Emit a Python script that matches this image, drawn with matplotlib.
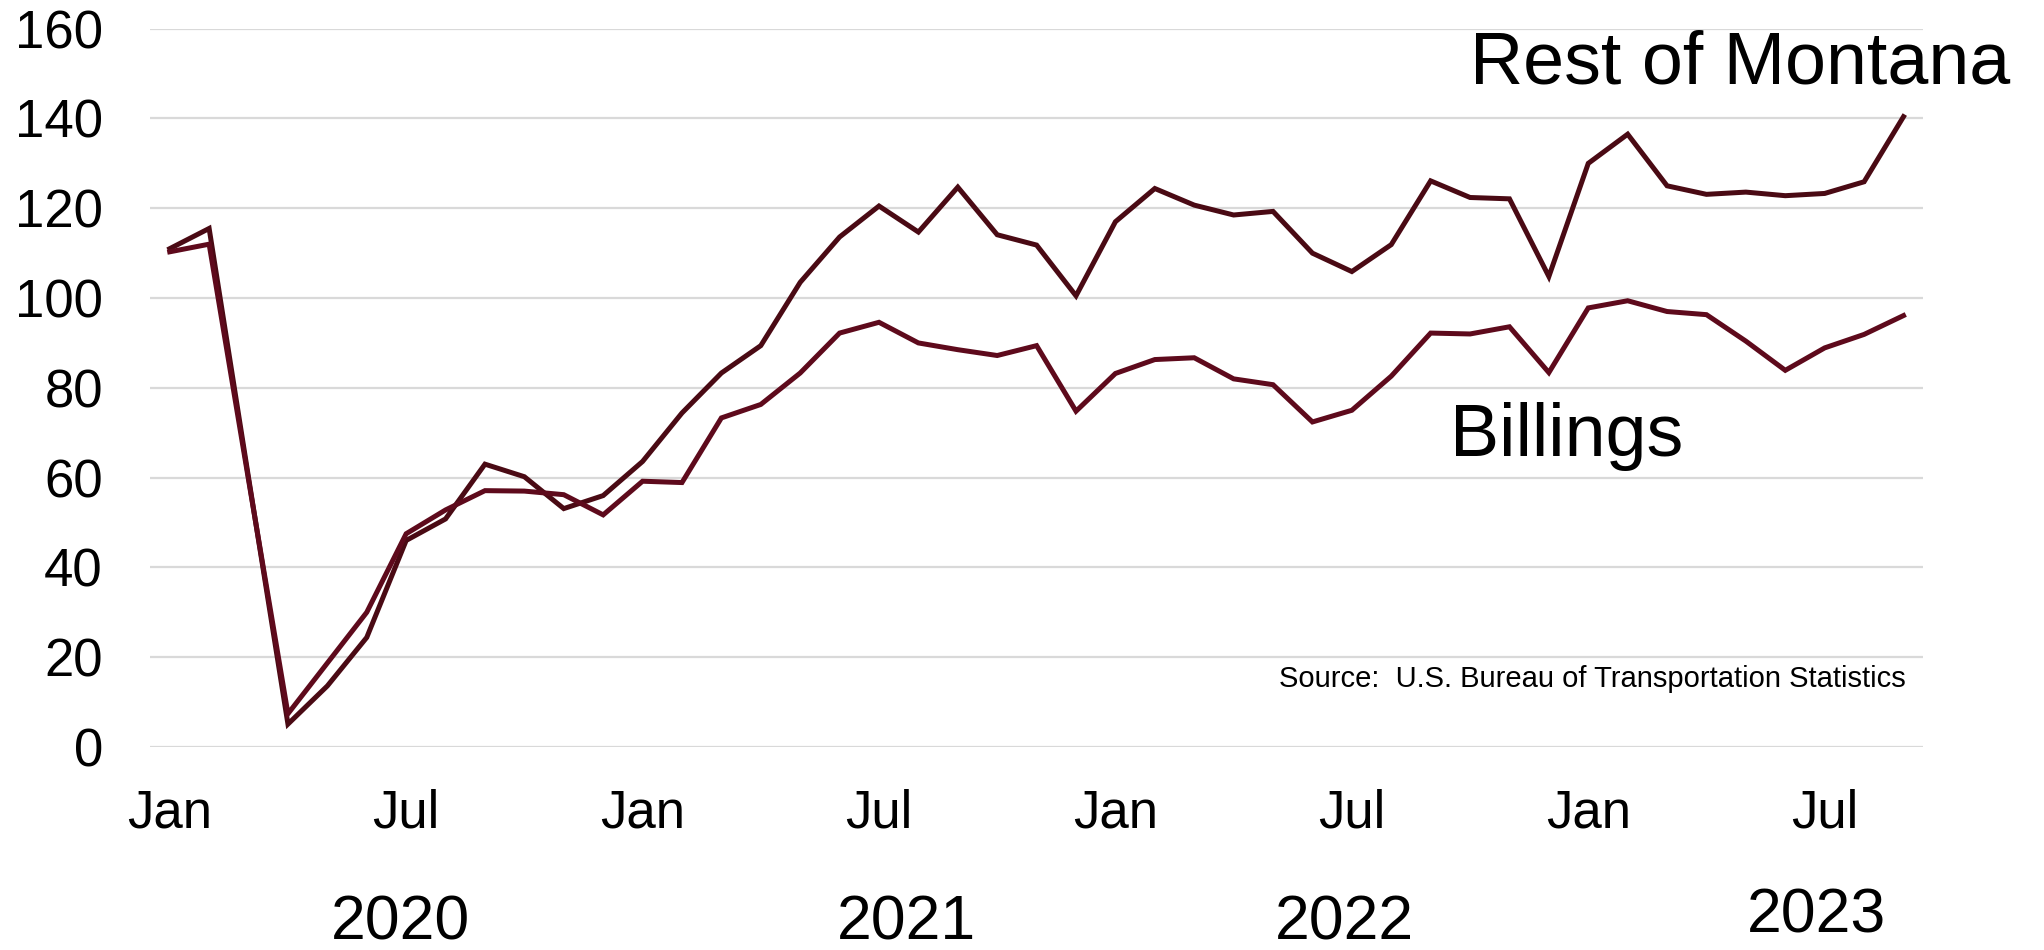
import matplotlib.pyplot as plt
import numpy as np

plt.rcParams['font.family'] = ['Liberation Sans', 'DejaVu Sans']

# monthly values, Jan 2020 - Sep 2023
months = ['Jan', 'Feb', 'Mar', 'Apr', 'May', 'Jun',
          'Jul', 'Aug', 'Sep', 'Oct', 'Nov', 'Dec'] * 3 + \
         ['Jan', 'Feb', 'Mar', 'Apr', 'May', 'Jun', 'Jul', 'Aug', 'Sep']
rest_of_montana = [111.0, 115.5, 60.0, 5.1, 13.6, 24.4, 46.0, 50.8, 63.0, 60.2, 53.1, 56.0,
                   63.6, 74.4, 83.3, 89.4, 103.5, 113.6, 120.5, 114.7, 124.7, 114.1, 111.8, 100.5,
                   117.0, 124.4, 120.7, 118.5, 119.3, 110.0, 105.9, 111.9, 126.1, 122.4, 122.1, 104.8,
                   130.0, 136.5, 125.0, 123.1, 123.6, 122.8, 123.3, 125.9, 140.4]
billings = [110.3, 112.0, 59.5, 7.4, 18.7, 30.0, 47.5, 52.8, 57.1, 57.0, 56.2, 51.7,
            59.2, 58.9, 73.3, 76.3, 83.3, 92.2, 94.6, 90.0, 88.5, 87.2, 89.4, 74.8,
            83.2, 86.3, 86.7, 82.0, 80.7, 72.4, 75.0, 82.6, 92.2, 92.0, 93.6, 83.4,
            97.8, 99.4, 97.0, 96.3, 90.4, 83.9, 88.9, 91.9, 96.1]
years = ['2020', '2021', '2022', '2023']
year_pos = [5.85, 18.7, 29.8, 41.8]

x = np.arange(len(months))

fig = plt.figure(figsize=(20.44, 9.5), dpi=100)
ax = fig.add_axes([0.0734, 0.2137, 0.8675, 0.7561])

ax.plot(x, rest_of_montana, color='#4a0a14', lw=3.6, solid_joinstyle='miter', zorder=3)
ax.plot(x, billings, color='#5e0a1c', lw=3.6, solid_joinstyle='miter', zorder=3)

ax.set_xlim(-0.5, 44.5)
ax.set_ylim(0, 160)
ax.set_yticks(np.arange(0, 161, 20))
ax.grid(axis='y', color='#d9d9d9', lw=1.6, zorder=0)
ax.set_axisbelow(True)
for s in ax.spines.values():
    s.set_visible(False)

tick_idx = [i for i in x if months[i] in ('Jan', 'Jul')]
ax.set_xticks(tick_idx)
ax.set_xticklabels([months[i] for i in tick_idx])
ax.tick_params(axis='both', length=0, labelsize=38)
ax.tick_params(axis='x', pad=30)
ax.tick_params(axis='y', pad=34)

# year labels under the month labels
for yr, xp in zip(years, year_pos):
    yy = -0.235 if yr == '2023' else -0.245
    ax.text(xp, yy, yr, transform=ax.get_xaxis_transform(), ha='center', va='center',
            fontsize=45, clip_on=False)

ax.text(33.0, 147.8, 'Rest of Montana', fontsize=53, ha='left', va='baseline', clip_on=False)
ax.text(32.48, 64.8, 'Billings', fontsize=53, ha='left', va='baseline')
ax.text(44.06, 15.1, 'Source:  U.S. Bureau of Transportation Statistics', fontsize=21,
        ha='right', va='center')

plt.savefig('out.png', dpi=100)
